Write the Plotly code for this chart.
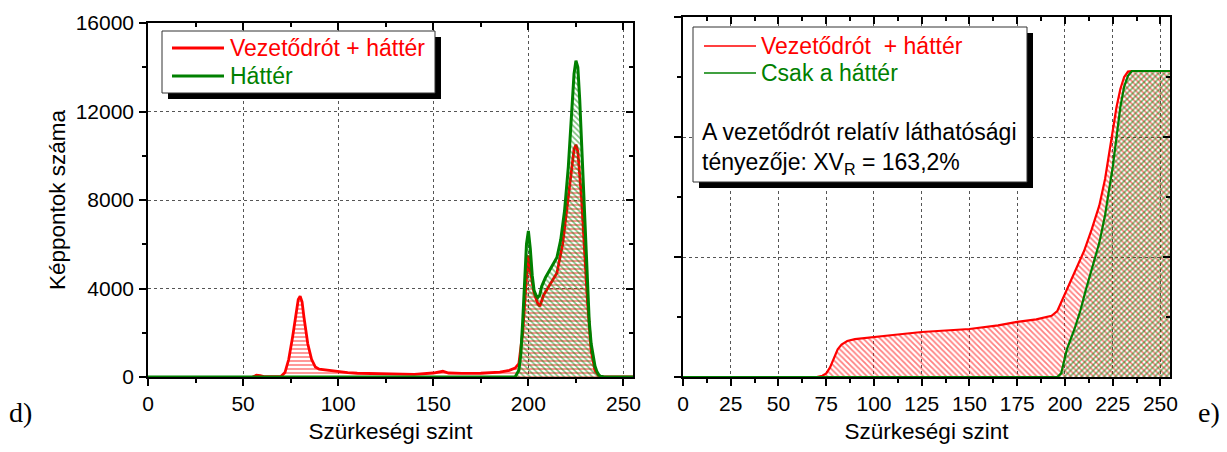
import plotly.graph_objects as go

# ---------------- data ----------------
# panel d: histogram (gray level -> pixel count)
hist_red_x = [55, 57, 59, 61, 66, 70, 72, 74, 76, 78, 79, 80, 81, 82, 84, 86, 88, 90, 95, 100, 105, 110,
              120, 130, 140, 150, 155, 158, 165, 175, 180, 185, 190, 193, 195, 197, 199, 200, 201, 203,
              205, 206, 208, 210, 213, 215, 218, 220, 222, 224, 225, 226, 228, 230, 231, 233, 235, 237,
              240, 255]
hist_red_y = [0, 80, 60, 20, 20, 30, 200, 800, 1800, 3000, 3500, 3650, 3400, 2700, 1500, 800, 450, 350,
              300, 220, 200, 170, 150, 120, 120, 180, 260, 180, 160, 170, 200, 220, 300, 400, 600, 2000,
              4500, 5500, 4800, 3800, 3300, 3200, 3700, 4000, 4400, 4700, 6000, 7500, 9000, 10300, 10500,
              10200, 8000, 5000, 3500, 1200, 300, 50, 0, 0]
hist_green_x = [0, 193, 195, 196, 197, 198, 199, 200, 201, 202, 203, 204, 205, 206, 207, 209, 211, 213,
                215, 217, 219, 221, 222, 223, 224, 225, 226, 227, 228, 229, 230, 231, 232, 233, 234, 235,
                236, 237, 238, 240, 255]
hist_green_y = [0, 0, 300, 1000, 2500, 4500, 6000, 6600, 5800, 4600, 3900, 3700, 3600, 3700, 4100, 4500,
                4800, 5100, 5400, 6200, 7500, 9500, 11000, 12500, 13700, 14300, 14000, 12500, 10500, 8000,
                6000, 4000, 2500, 1500, 900, 500, 250, 100, 30, 0, 0]

# panel e: cumulative curves (arbitrary units, grid lines at 1 and 2)
cum_red_x = [0, 70, 73, 75, 77, 79, 81, 83, 86, 90, 100, 110, 125, 150, 165, 175, 185, 193, 196, 198,
             200, 203, 207, 210, 214, 218, 221, 223, 225, 227, 229, 231, 233, 235, 255]
cum_red_y = [0, 0, 0.01, 0.03, 0.08, 0.16, 0.23, 0.27, 0.30, 0.315, 0.33, 0.35, 0.375, 0.40, 0.43, 0.46,
             0.48, 0.51, 0.55, 0.62, 0.70, 0.80, 0.93, 1.05, 1.23, 1.43, 1.65, 1.85, 2.05, 2.25, 2.40,
             2.50, 2.545, 2.55, 2.55]
cum_green_x = [0, 196, 198, 199.5, 201, 205, 208, 211, 215, 218, 221, 223, 225, 227, 229, 231, 233, 235,
               255]
cum_green_y = [0, 0, 0.03, 0.12, 0.23, 0.40, 0.55, 0.73, 0.95, 1.12, 1.35, 1.55, 1.75, 2.0, 2.25, 2.42,
               2.51, 2.55, 2.55]

left_y_ticks = [0, 4000, 8000, 12000, 16000]
left_y_labels = ["0", "4000", "8000", "12000", "16000"]
left_x_ticks = [0, 50, 100, 150, 200, 250]
right_x_ticks = [0, 25, 50, 75, 100, 125, 150, 175, 200, 225, 250]

legend_d = ["Vezetődrót + háttér", "Háttér"]
legend_e = ["Vezetődrót\u00a0 + háttér", "Csak a háttér"]
note_e = "A vezetődrót relatív láthatósági<br>tényezője: XV<sub>R</sub> = 163,2%"

RED = "#ff0000"
GREEN = "#008000"
FONT = "Liberation Sans"
FS_TICK = 21
FS_TITLE = 22.5
FS_LEG_D = 23
FS_LEG_E = 23

W, H = 1227, 452
def px(x):
    return x / W
def py(y):
    return 1 - y / H

fig = go.Figure()

# ---- panel d ----
fig.add_trace(go.Scatter(x=hist_red_x, y=hist_red_y, mode="lines", line=dict(color=RED, width=2.8),
                         fill="tozeroy", fillcolor="rgba(0,0,0,0)",
                         fillpattern=dict(shape="-", fgcolor=RED, bgcolor="rgba(0,0,0,0)", size=4, solidity=0.4),
                         xaxis="x", yaxis="y", showlegend=False))
fig.add_trace(go.Scatter(x=hist_green_x, y=hist_green_y, mode="lines", line=dict(color=GREEN, width=3),
                         fill="tozeroy", fillcolor="rgba(0,0,0,0)",
                         fillpattern=dict(shape="\\", fgcolor=GREEN, bgcolor="rgba(0,0,0,0)", size=4, solidity=0.4),
                         xaxis="x", yaxis="y", showlegend=False))

# ---- panel e ----
fig.add_trace(go.Scatter(x=cum_red_x, y=cum_red_y, mode="lines", line=dict(color=RED, width=2.2),
                         fill="tozeroy", fillcolor="rgba(0,0,0,0)",
                         fillpattern=dict(shape="\\", fgcolor=RED, bgcolor="rgba(0,0,0,0)", size=4, solidity=0.45),
                         xaxis="x2", yaxis="y2", showlegend=False))
fig.add_trace(go.Scatter(x=cum_green_x, y=cum_green_y, mode="lines", line=dict(color=GREEN, width=2.2),
                         fill="tozeroy", fillcolor="rgba(0,0,0,0)",
                         fillpattern=dict(shape="/", fgcolor=GREEN, bgcolor="rgba(0,0,0,0)", size=4, solidity=0.45),
                         xaxis="x2", yaxis="y2", showlegend=False))

# invisible traces to carry the mirrored (inside-tick) axes
fig.add_trace(go.Scatter(x=[0], y=[0], mode="markers", marker=dict(opacity=0), xaxis="x3", yaxis="y3",
                         showlegend=False, hoverinfo="skip"))
fig.add_trace(go.Scatter(x=[0], y=[0], mode="markers", marker=dict(opacity=0), xaxis="x4", yaxis="y4",
                         showlegend=False, hoverinfo="skip"))

dom_d_x = [px(148), px(633)]
dom_e_x = [px(683), px(1170)]
dom_d_y = [py(377), py(23)]
dom_e_y = [py(377), py(17)]

tickfont = dict(family=FONT, size=FS_TICK, color="black")
titlefont = dict(family=FONT, size=FS_TITLE, color="black")
grid = dict(showgrid=True, gridcolor="#555555", gridwidth=1, griddash="dot")
axline = dict(showline=True, linecolor="black", linewidth=1.5, zeroline=False, automargin=False)
tk = dict(ticklen=7, tickwidth=1.5, tickcolor="black")

def minor(vals, side):
    return dict(tickvals=vals, ticks=side, ticklen=4, tickwidth=1.5, tickcolor="black")

minor_d_x = [25, 75, 125, 175, 225]
minor_d_y = [2000, 6000, 10000, 14000]
minor_e_x = [12.5 + 25 * i for i in range(10)]
minor_e_y = [0.5, 1.5, 2.5]

fig.update_layout(
    width=W, height=H, margin=dict(l=0, r=0, t=0, b=0),
    paper_bgcolor="white", plot_bgcolor="white",
    font=dict(family=FONT, size=FS_TICK, color="black"),
    xaxis=dict(domain=dom_d_x, anchor="y", range=[0, 255], tickvals=left_x_ticks, ticks="outside",
               tickfont=tickfont, minor=minor(minor_d_x, "outside"),
               title=dict(text="Szürkeségi szint", font=titlefont, standoff=9),
               **tk, **grid, **axline),
    yaxis=dict(domain=dom_d_y, anchor="x", range=[0, 16000], tickvals=left_y_ticks, ticktext=left_y_labels,
               ticks="outside", tickfont=tickfont, minor=minor(minor_d_y, "outside"), ticklabelstandoff=1,
               title=dict(text="Képpontok száma", font=titlefont, standoff=4),
               **tk, **grid, **axline),
    xaxis2=dict(domain=dom_e_x, anchor="y2", range=[0, 255], tickvals=right_x_ticks, ticks="outside",
                tickfont=tickfont, minor=minor(minor_e_x, "outside"),
                title=dict(text="Szürkeségi szint", font=titlefont, standoff=9),
                **tk, **grid, **axline),
    yaxis2=dict(domain=dom_e_y, anchor="x2", range=[0, 3], tickvals=[0, 1, 2, 3], ticks="outside",
                showticklabels=False, minor=minor(minor_e_y, "outside"),
                **tk, **grid, **axline),
    # mirrored axes with inside ticks
    xaxis3=dict(overlaying="x", anchor="y3", side="top", range=[0, 255], tickvals=left_x_ticks, ticks="inside",
                showticklabels=False, showgrid=False, minor=minor(minor_d_x, "inside"), **tk, **axline),
    yaxis3=dict(overlaying="y", anchor="x3", side="right", range=[0, 16000], tickvals=left_y_ticks, ticks="inside",
                showticklabels=False, showgrid=False, minor=minor(minor_d_y, "inside"), **tk, **axline),
    xaxis4=dict(overlaying="x2", anchor="y4", side="top", range=[0, 255], tickvals=right_x_ticks, ticks="inside",
                showticklabels=False, showgrid=False, minor=minor(minor_e_x, "inside"), **tk, **axline),
    yaxis4=dict(overlaying="y2", anchor="x4", side="right", range=[0, 3], tickvals=[0, 1, 2, 3], ticks="inside",
                showticklabels=False, showgrid=False, minor=minor(minor_e_y, "inside"), **tk, **axline),
)

shapes = []
annots = []

def box(x0, y0, x1, y1, off=6):
    shapes.append(dict(type="rect", xref="paper", yref="paper", x0=px(x0 + off), x1=px(x1 + off),
                       y0=py(y1 + off), y1=py(y0 + off), fillcolor="black", line=dict(width=0)))
    shapes.append(dict(type="rect", xref="paper", yref="paper", x0=px(x0), x1=px(x1),
                       y0=py(y1), y1=py(y0), fillcolor="white", line=dict(color="#333333", width=1)))

def legline(x0, x1, y, color, width):
    shapes.append(dict(type="line", xref="paper", yref="paper", x0=px(x0), x1=px(x1), y0=py(y), y1=py(y),
                       line=dict(color=color, width=width)))

def text(x, y, s, color="black", size=FS_TICK, xanchor="left", family=FONT):
    annots.append(dict(xref="paper", yref="paper", x=px(x), y=py(y), text=s, showarrow=False,
                       xanchor=xanchor, yanchor="middle", font=dict(family=family, size=size, color=color)))

# legend d
box(162, 31, 435, 93)
legline(172, 224, 48, RED, 2.8)
legline(172, 224, 76, GREEN, 2.8)
text(228, 48, legend_d[0], RED, size=FS_LEG_D)
text(228, 76, legend_d[1], GREEN, size=FS_LEG_D)

# legend e
box(693, 27, 1027, 182)
legline(704, 756, 46, RED, 1.5)
legline(704, 756, 73, GREEN, 1.5)
text(759, 46, legend_e[0], RED, size=FS_LEG_E)
text(759, 73, legend_e[1], GREEN, size=FS_LEG_E)
annots.append(dict(xref="paper", yref="paper", x=px(700), y=py(148), text=note_e, showarrow=False,
                   xanchor="left", yanchor="middle", align="left",
                   font=dict(family=FONT, size=FS_LEG_E, color="black")))

# panel letters
text(7, 412, "d)", size=28, family="Liberation Serif")
text(1196, 412, "e)", size=28, family="Liberation Serif")

fig.update_layout(shapes=shapes, annotations=annots)
fig.write_html("out.html")
